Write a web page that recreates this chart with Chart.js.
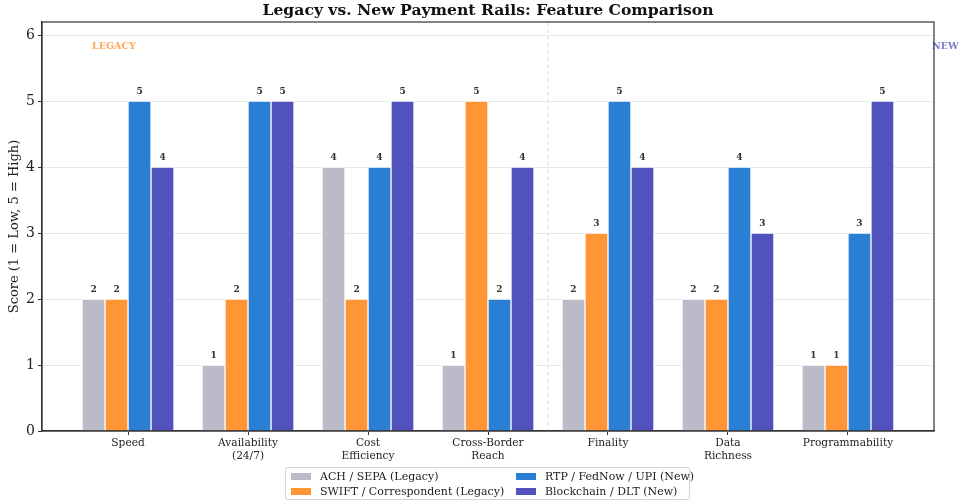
<!DOCTYPE html>
<html lang="en">
<head>
    <meta charset="UTF-8">
    <title>Legacy vs. New Payment Rails</title>
    <script src="https://cdn.jsdelivr.net/npm/chart.js"></script>
    <style>
        body { margin: 0; background: #fff; }
        #wrap { position: relative; width: 961px; height: 502px; }
        #legend {
            position: absolute; left: 285px; top: 467px; width: 405px; height: 33px;
            border: 1px solid #d6d6d6; border-radius: 2px; box-sizing: border-box;
            font-family: 'DejaVu Serif', serif; font-size: 11px; color: #222;
            display: grid; grid-template-columns: 225px 180px; grid-template-rows: 15px 15px;
            grid-auto-flow: column; padding: 1px 0 0 5px;
        }
        #legend div { display: flex; align-items: center; white-space: nowrap; }
        #legend span.sw { display: inline-block; width: 20px; height: 7px; margin-right: 9px; }
    </style>
</head>
<body>
<div id="wrap">
    <canvas id="myChart" width="961" height="502"></canvas>
    <div id="legend"></div>
</div>
<script>
    const categories = ['Speed', ['Availability', '(24/7)'], ['Cost', 'Efficiency'], ['Cross-Border', 'Reach'], 'Finality', ['Data', 'Richness'], 'Programmability'];
    const seriesNames = ['ACH / SEPA (Legacy)', 'SWIFT / Correspondent (Legacy)', 'RTP / FedNow / UPI (New)', 'Blockchain / DLT (New)'];
    const achScores = [2, 1, 4, 1, 2, 2, 1];
    const swiftScores = [2, 2, 2, 5, 3, 2, 1];
    const rtpScores = [5, 5, 4, 2, 5, 4, 3];
    const dltScores = [4, 5, 5, 4, 4, 3, 5];
    const yTicks = [0, 1, 2, 3, 4, 5, 6];
    const colors = ['#babac9', '#ff9535', '#2a7fd5', '#5252bd'];
    const offsets = [-0.2875, -0.0958, 0.0958, 0.2875];
    const allScores = [achScores, swiftScores, rtpScores, dltScores];
    const serif = "'DejaVu Serif', serif";

    const datasets = allScores.map((scores, k) => ({
        label: seriesNames[k],
        data: scores.map((v, i) => ({ x: i + offsets[k], y: v })),
        backgroundColor: colors[k],
        borderColor: '#ffffff',
        borderWidth: 1,
        barThickness: 23,
        grouped: false
    }));

    const extras = {
        id: 'extras',
        beforeDatasetsDraw(chart) {
            const { ctx, chartArea, scales } = chart;
            const x = scales.x.getPixelForValue(3.5);
            ctx.save();
            ctx.strokeStyle = '#dddddd';
            ctx.setLineDash([4, 3]);
            ctx.lineWidth = 1;
            ctx.beginPath();
            ctx.moveTo(x, chartArea.top);
            ctx.lineTo(x, chartArea.bottom);
            ctx.stroke();
            ctx.restore();
        },
        afterDatasetsDraw(chart) {
            const { ctx, chartArea, scales } = chart;
            ctx.save();
            ctx.font = 'bold 9px ' + serif;
            ctx.fillStyle = '#333';
            ctx.textAlign = 'center';
            ctx.textBaseline = 'bottom';
            chart.data.datasets.forEach((ds, k) => {
                chart.getDatasetMeta(k).data.forEach((bar, i) => {
                    ctx.fillText(String(ds.data[i].y), bar.x, bar.y - 5);
                });
            });
            ctx.font = 'bold 9.5px ' + serif;
            ctx.textAlign = 'left';
            ctx.textBaseline = 'middle';
            ctx.fillStyle = 'rgba(255,149,53,0.85)';
            ctx.fillText('LEGACY', scales.x.getPixelForValue(-0.3), scales.y.getPixelForValue(5.83));
            ctx.fillStyle = 'rgba(82,82,189,0.75)';
            ctx.fillText('NEW', scales.x.getPixelForValue(6.7), scales.y.getPixelForValue(5.83));
            ctx.strokeStyle = '#333';
            ctx.lineWidth = 1.2;
            ctx.strokeRect(chartArea.left, chartArea.top, chartArea.right - chartArea.left, chartArea.bottom - chartArea.top);
            ctx.font = 'bold 15.6px ' + serif;
            ctx.fillStyle = '#111';
            ctx.textAlign = 'center';
            ctx.fillText('Legacy vs. New Payment Rails: Feature Comparison', (chartArea.left + chartArea.right) / 2, 11);
            ctx.restore();
        }
    };

    const chart = new Chart(document.getElementById('myChart'), {
        type: 'bar',
        data: { datasets },
        options: {
            responsive: false,
            animation: false,
            layout: { padding: { top: 22, right: 27, left: 0, bottom: 0 } },
            plugins: { legend: { display: false }, tooltip: { enabled: false } },
            scales: {
                x: {
                    type: 'linear',
                    offset: false,
                    min: -0.717,
                    max: 6.717,
                    afterBuildTicks: s => { s.ticks = categories.map((c, i) => ({ value: i })); },
                    afterFit: s => { s.height = 71; },
                    grid: { display: true, offset: false, drawOnChartArea: false, drawTicks: true, tickLength: 4, tickColor: '#333' },
                    border: { color: '#333', width: 1.2 },
                    ticks: {
                        padding: 2,
                        maxRotation: 0,
                        autoSkip: false,
                        color: '#222',
                        font: { family: serif, size: 10.6 },
                        callback: v => categories[Math.round(v)]
                    }
                },
                y: {
                    min: 0,
                    max: 6.2,
                    afterBuildTicks: s => { s.ticks = yTicks.map(v => ({ value: v })); },
                    afterFit: s => { s.width = 42; },
                    grid: { color: '#e8e8e8', tickLength: 4, tickColor: '#333' },
                    border: { color: '#333', width: 1.2 },
                    ticks: { padding: 3, color: '#222', font: { family: serif, size: 14 } },
                    title: { display: true, text: 'Score (1 = Low, 5 = High)', color: '#222', font: { family: serif, size: 13 }, padding: { top: 7, bottom: 0 } }
                }
            }
        },
        plugins: [extras]
    });

    document.getElementById('legend').innerHTML = chart.data.datasets.map(ds =>
        '<div><span class="sw" style="background:' + ds.backgroundColor + '"></span>' + ds.label + '</div>'
    ).join('');
</script>
</body>
</html>
